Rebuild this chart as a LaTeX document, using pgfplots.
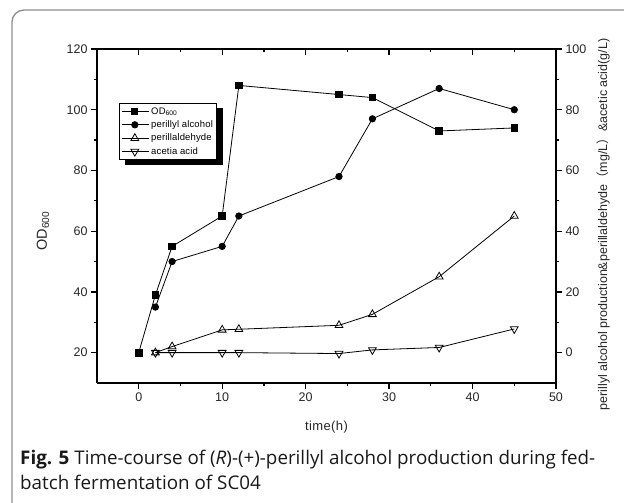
\documentclass[border=0pt]{standalone}
\usepackage{pgfplots}
\pgfplotsset{compat=1.18}
\usepackage{fontspec}
\setmainfont{Liberation Sans}
\newfontfamily\capfont{Open Sans}
\newfontfamily\cjk{Noto Sans CJK SC}
\newfontfamily\legfont[LetterSpace=1.5]{Liberation Sans}
\newfontfamily\labfont[LetterSpace=3]{Liberation Sans}

\begin{document}
\begin{tikzpicture}[x=1pt,y=1pt]
\path[use as bounding box] (0,0) rectangle (624,503);
\begin{scope}
\clip (0,0) rectangle (624,503);
\draw[rounded corners=12pt, line width=1.3pt, black!45] (12,-30) rectangle (660,493);
\end{scope}

\pgfplotsset{
  base/.style={at={(97pt,120pt)}, anchor=south west, scale only axis,
    width=459pt, height=334pt, xmin=-5, xmax=50,
    axis line style={line width=1.6pt},
    major tick length=6pt, minor tick length=3pt,
    every tick/.style={black, line width=1.2pt},
    tick label style={font=\fontsize{12.5}{15}\selectfont, text=black!85},
    /pgf/number format/assume math mode=true,
    clip=false},
  dline/.style={black, line width=0.8pt},
}

% left + bottom axis with OD600
\begin{axis}[base, ymin=10, ymax=120,
  axis x line*=bottom, axis y line*=left, tick align=outside,
  xtick={0,10,...,50}, minor x tick num=1,
  ytick={20,40,...,120}, minor y tick num=1,
  xlabel={time(h)},
  xlabel style={font=\labfont\fontsize{13}{15}\selectfont, text=black!85, at={(axis description cs:0.5,-0.1317)}, anchor=center},
  ylabel={OD$_{\mathrm{600}}$},
  ylabel style={font=\fontsize{14.5}{16}\selectfont, text=black!85, at={(axis description cs:-0.1176,0.455)}, anchor=center},
]
\addplot[dline, mark=square*, mark size=3.3pt, mark options={solid, fill=black}] coordinates {
(0,20) (2,39) (4,55) (10,65) (12,108) (24,105) (28,104) (36,93) (45,94)};
\end{axis}

% top axis with inward ticks
\begin{axis}[base, ymin=10, ymax=120,
  axis x line*=top, axis y line=none, tick align=inside,
  xtick={0,10,...,50}, minor x tick num=1, xticklabels={}]
\end{axis}

% legend shadow
\fill[black] (124.5,337.5) rectangle (222.5,394.5);

% right axis
\begin{axis}[base, ymin=-10, ymax=100,
  axis x line=none, axis y line*=right, tick align=outside,
  ytick={0,20,...,100}, minor y tick num=1,
  ylabel={perillyl alcohol production\&perillaldehyde{\cjk （}mg/L{\cjk ）}\&acetic acid(g/L)},
  ylabel style={font=\fontsize{12.5}{15}\selectfont, text=black!85, at={(axis description cs:1.1024,0.4746)}, anchor=center},
  legend image code/.code={\path (-1pt,0pt) -- (26pt,0pt); \draw[mark repeat=2,mark phase=2,#1] plot coordinates {(0pt,0pt)(12pt,0pt)(24pt,0pt)};},
  legend cell align=left,
  legend style={at={(rel axis cs:0.048,0.838)}, anchor=north west, draw=black, line width=0.8pt,
    fill=white, font=\legfont\fontsize{9.5}{12}\selectfont, inner sep=2pt, row sep=1pt},
]
\addlegendimage{dline, mark=square*, mark size=3pt, mark options={solid, fill=black}}
\addlegendentry{OD$_{\mathrm{600}}$}
\addplot[dline, mark=*, mark size=3.2pt, mark options={solid, fill=black}] coordinates {
(2,15) (4,30) (10,35) (12,45) (24,58) (28,77) (36,87) (45,80)};
\addlegendentry{perillyl alcohol}
\addplot[dline, mark=triangle, mark size=4.5pt, mark options={solid, fill=white}] coordinates {
(2,0) (4,2) (10,7.5) (12,7.7) (24,9) (28,12.6) (36,25) (45,45)};
\addlegendentry{perillaldehyde}
\addplot[dline, mark=triangle, mark size=4.5pt, mark options={solid, fill=white, rotate=180}] coordinates {
(2,0) (4,0) (10,0) (12,0) (24,-0.3) (28,0.9) (36,1.7) (45,7.8)};
\addlegendentry{acetia acid}
\end{axis}

\node[anchor=base west, inner sep=0pt, text=black!90, font=\capfont\fontsize{18.8}{25}\selectfont] at (20,38)
  {\textbf{Fig. 5} Time-course of (\textit{R})-(+)-perillyl alcohol production during fed-};
\node[anchor=base west, inner sep=0pt, text=black!90, font=\capfont\fontsize{18.8}{25}\selectfont] at (20,13)
  {batch fermentation of SC04};
\end{tikzpicture}
\end{document}
